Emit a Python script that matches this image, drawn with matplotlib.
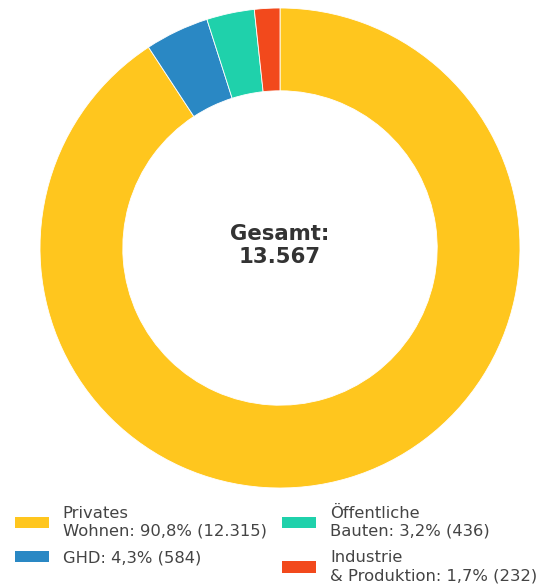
import matplotlib
matplotlib.use("Agg")
import matplotlib.pyplot as plt
from matplotlib.patches import Patch

plt.rcParams["font.family"] = ["DejaVu Sans"]

categories = ["Privates\nWohnen", "GHD", "Öffentliche\nBauten", "Industrie\n& Produktion"]
values = [12315, 584, 436, 232]
colors = ["#FFC61E", "#2A88C4", "#1FD1AB", "#F2491C"]

total = sum(values)

def fmt_int(n):
    return f"{n:,}".replace(",", ".")

def fmt_pct(v):
    return f"{v / total * 100:.1f}".replace(".", ",") + "%"

fig = plt.figure(figsize=(5.53, 5.86), dpi=100)
ax = fig.add_axes([40 / 553, (586 - 488) / 586, 480 / 553, 480 / 586])
ax.pie(values, colors=colors, startangle=90, counterclock=False, radius=1.0,
       wedgeprops=dict(width=0.345, edgecolor="white", linewidth=0.6))
ax.set_xlim(-1, 1)
ax.set_ylim(-1, 1)
ax.set_aspect("equal")
ax.axis("off")

ax.text(0, 0.01, f"Gesamt:\n{fmt_int(total)}", ha="center", va="center",
        fontsize=15.3, fontweight="bold", color="#333333", linespacing=1.15)

handles = [Patch(facecolor=c, edgecolor="none") for c in colors]
labels = [f"{cat}: {fmt_pct(v)} ({fmt_int(v)})" for cat, v in zip(categories, values)]
leg = fig.legend(handles, labels, ncol=2, loc="upper left",
                 bbox_to_anchor=(15 / 553, 1 - 506 / 586), frameon=False,
                 borderpad=0, borderaxespad=0,
                 fontsize=11.8, labelcolor="#444444", handlelength=2.07, handleheight=0.67,
                 handletextpad=0.85, columnspacing=0.95, labelspacing=0.7)
for t in leg.get_texts():
    t.set_linespacing(1.24)

fig.savefig("out.png", dpi=100)
